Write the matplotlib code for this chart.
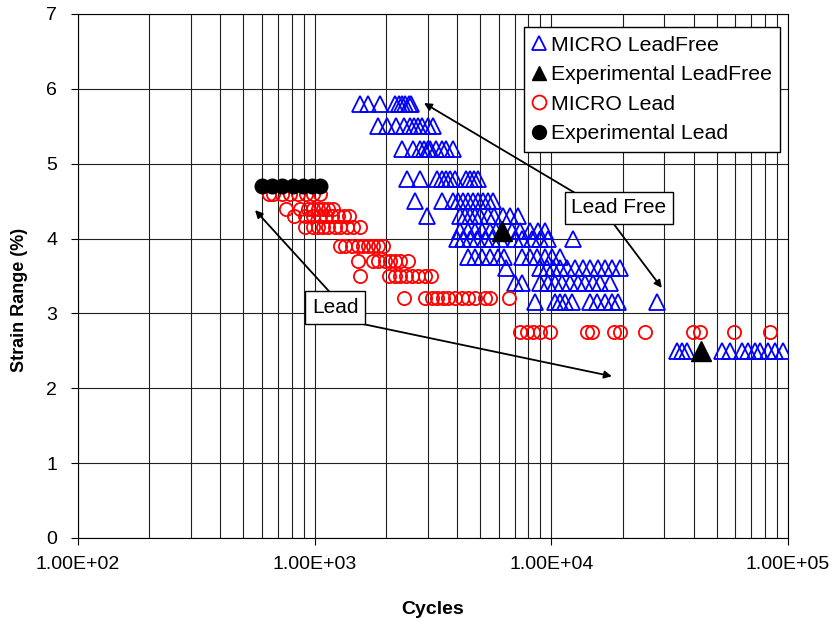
#%%
import numpy as np
import matplotlib.pyplot as plt
from matplotlib.ticker import FixedLocator, FuncFormatter

plt.rcParams['font.family'] = ['Liberation Sans', 'DejaVu Sans']

#%%
#--Data (cycles per strain level)
#MICRO LeadFree (open blue triangles)
lf_strain = [5.8, 5.5, 5.2, 4.8, 4.5, 4.3, 4.1, 4.0, 3.75, 3.6, 3.4, 3.15, 2.5]
lf_cycles = [
    [1550, 1680, 1880, 2180, 2280, 2350, 2420, 2500, 2560],
    [1850, 2030, 2200, 2380, 2520, 2620, 2730, 2850, 3000, 3150],
    [2350, 2600, 2780, 2900, 3000, 3060, 3250, 3440, 3600, 3830],
    [2450, 2780, 3280, 3440, 3580, 3720, 3900, 4350, 4520, 4700, 4880],
    [2650, 3440, 3830, 4020, 4220, 4430, 4650, 4880, 5130, 5380, 5650],
    [2970, 4100, 4300, 4520, 4740, 4980, 5380, 5750, 6220, 6670, 7200],
    [4100, 4430, 4740, 5070, 5480, 5860, 6790, 7350, 8100, 8750, 9400],
    [3980, 4220, 4520, 4840, 5230, 5600, 6050, 7000, 7500, 8250, 8930, 9700, 12400],
    [4430, 4740, 5070, 5480, 5930, 6340, 7500, 8100, 8660, 9360, 10100, 10900],
    [6460, 8990, 9550, 10190, 10900, 11670, 12600, 13640, 14580, 15760, 16850, 18020, 19480],
    [7000, 7500, 8990, 9700, 10400, 11100, 12000, 13000, 13900, 15000, 16050, 17650],
    [8520, 10400, 10900, 11430, 12260, 14580, 15600, 16850, 18020, 19100, 28000],
    [33960, 35650, 37400, 52600, 56900, 63900, 67700, 72500, 76100, 82300, 88100, 95100],
]

#Experimental LeadFree (filled black triangles)
exp_lf_cycles = [6200, 43000]
exp_lf_strain = [4.1, 2.5]

#MICRO Lead (open red circles)
pb_strain = [4.6, 4.4, 4.3, 4.15, 3.9, 3.7, 3.5, 3.2, 2.75]
pb_cycles = [
    [640, 665, 725, 784, 848, 916, 981, 1050],
    [760, 865, 935, 980, 1030, 1080, 1135, 1190],
    [815, 907, 980, 1050, 1113, 1180, 1250, 1326, 1392],
    [907, 981, 1030, 1081, 1135, 1215, 1275, 1365, 1447, 1549],
    [1275, 1340, 1433, 1519, 1595, 1675, 1758, 1845, 1938],
    [1519, 1758, 1845, 1976, 2075, 2178, 2287, 2471],
    [1549, 2054, 2178, 2287, 2424, 2570, 2724, 2915, 3091],
    [2377, 2915, 3121, 3277, 3474, 3647, 3904, 4178, 4430, 4742, 5226, 5487, 6600],
    [7345, 7864, 8337, 8925, 9835, 14100, 14800, 18330, 19440, 24790, 39540, 42320, 58900, 83600],
]

#Experimental Lead (filled black circles)
exp_pb_cycles = [597, 658, 725, 807, 890, 971, 1050]
exp_pb_strain = [4.7] * len(exp_pb_cycles)

x_ticks = [1e2, 1e3, 1e4, 1e5]
y_ticks = [0, 1, 2, 3, 4, 5, 6, 7]

#%%
#--Flatten rows
lf_x = np.concatenate([np.array(c, float) for c in lf_cycles])
lf_y = np.concatenate([[s] * len(c) for s, c in zip(lf_strain, lf_cycles)])
pb_x = np.concatenate([np.array(c, float) for c in pb_cycles])
pb_y = np.concatenate([[s] * len(c) for s, c in zip(pb_strain, pb_cycles)])

#%%
#--Plot
fig = plt.figure(figsize=(8.38, 6.21), dpi=100)
ax = fig.add_axes([0.0931, 0.1337, 0.8472, 0.8438])

ax.plot(lf_x, lf_y, '^', ms=11.5, mfc='none', mec='#0000FF', mew=1.3,
        label='MICRO LeadFree', zorder=3)
ax.plot(exp_lf_cycles, exp_lf_strain, '^', ms=14, mfc='black', mec='black',
        label='Experimental LeadFree', zorder=5)
ax.plot(pb_x, pb_y, 'o', ms=9.5, mfc='none', mec='#FF0000', mew=1.3,
        label='MICRO Lead', zorder=3)
ax.plot(exp_pb_cycles, exp_pb_strain, 'o', ms=10.5, mfc='black', mec='black',
        label='Experimental Lead', zorder=5)

ax.set_xscale('log')
ax.set_xlim(1e2, 1e5)
ax.set_ylim(0, 7)
ax.xaxis.set_major_locator(FixedLocator(x_ticks))
ax.xaxis.set_major_formatter(FuncFormatter(lambda v, p: '{:.2E}'.format(v)))
ax.xaxis.set_minor_locator(FixedLocator(
    [m * 10 ** d for d in range(2, 5) for m in range(2, 10)]))
ax.set_yticks(y_ticks)
ax.grid(True, which='both', color='#202020', lw=0.8, zorder=0)
ax.set_axisbelow(True)
ax.tick_params(axis='both', which='major', labelsize=14, length=5, width=0.8)
ax.tick_params(axis='x', which='minor', length=0)
ax.tick_params(axis='x', which='major', pad=8)
ax.tick_params(axis='y', which='major', pad=10)

ax.set_xlabel('Cycles', fontsize=14, fontweight='bold', labelpad=20)
ax.set_ylabel('Strain Range (%)', fontsize=13, fontweight='bold')
ax.yaxis.set_label_coords(-0.07, 0.455)

#--Call-out boxes and arrows
arw = dict(arrowstyle='-|>', color='black', lw=1.3, mutation_scale=11,
           shrinkA=0, shrinkB=0)
box = dict(boxstyle='square,pad=0.32', fc='white', ec='black', lw=1)

ax.annotate('', xy=(560, 4.38), xytext=(1162, 3.28), arrowprops=arw, zorder=6)
ax.annotate('', xy=(18030, 2.16), xytext=(1480, 2.88), arrowprops=arw, zorder=6)
ax.text(1220, 3.08, 'Lead', fontsize=15, ha='center', va='center', bbox=box, zorder=7)

ax.annotate('', xy=(2897, 5.81), xytext=(12580, 4.61), arrowprops=arw, zorder=6)
ax.annotate('', xy=(29300, 3.34), xytext=(18200, 4.21), arrowprops=arw, zorder=6)
ax.text(19300, 4.41, 'Lead Free', fontsize=15, ha='center', va='center', bbox=box, zorder=7)

leg = ax.legend(loc='upper right', bbox_to_anchor=(0.989, 0.975), borderaxespad=0,
                fontsize=15.3, numpoints=1, handlelength=0.6, handletextpad=0.25,
                labelspacing=0.5, borderpad=0.4, fancybox=False, framealpha=1,
                edgecolor='black')
leg.get_frame().set_linewidth(1)
leg.set_zorder(8)
for h in leg.legend_handles:
    h.set_markersize(10)

plt.savefig('out.png', dpi=100)
plt.close()
